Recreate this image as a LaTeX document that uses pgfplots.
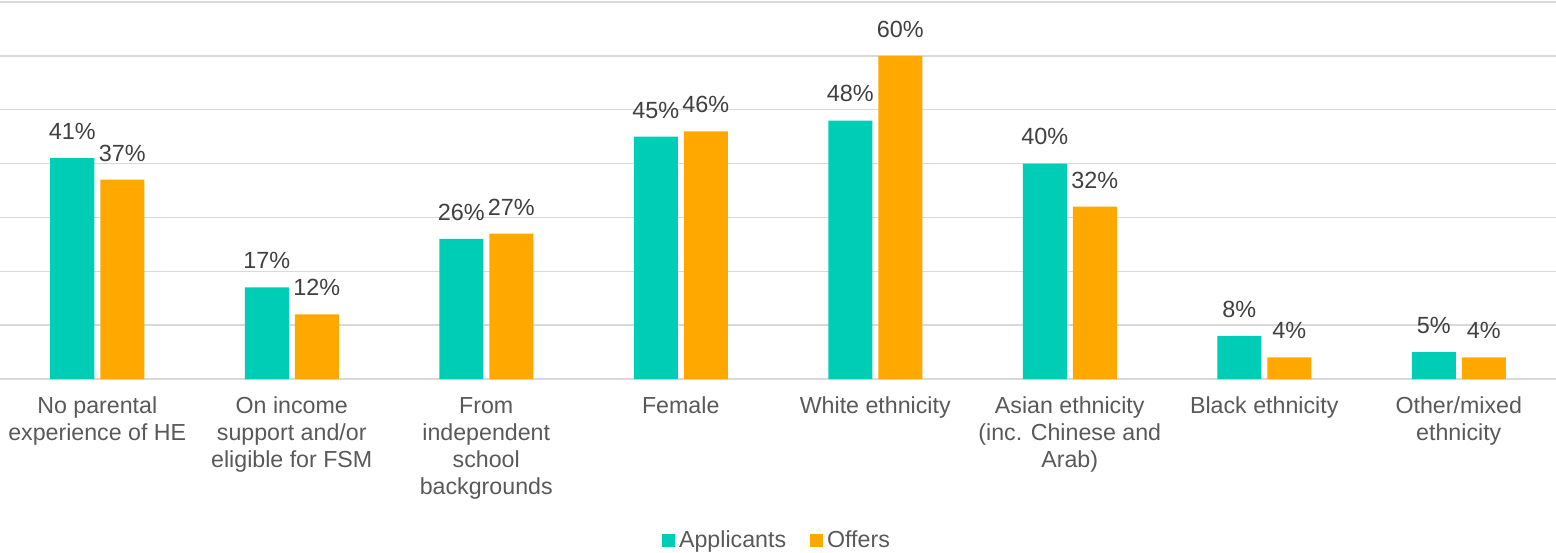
\documentclass[border=0pt]{standalone}
\usepackage{pgfplots}
\pgfplotsset{compat=1.18}
\usepackage{fontspec}
\setmainfont{Liberation Sans}
\definecolor{appteal}{HTML}{00CDB5}
\definecolor{offorange}{HTML}{FFA800}
\definecolor{gridgray}{HTML}{D9D9D9}
\definecolor{labgray}{HTML}{595959}
\definecolor{datgray}{HTML}{404040}
\begin{document}
\begin{tikzpicture}
\begin{axis}[
  at={(0,0)}, anchor=south west,
  width=778pt, height=188.5pt, scale only axis,
  xmin=-0.5, xmax=7.5, ymin=0, ymax=70,
  axis line style={draw=none},
  /pgf/number format/assume math mode=true,
  ytick={0,10,...,70}, yticklabels={},
  ymajorgrids, grid style={gridgray, line width=0.75pt},
  major tick length=0pt,
  xtick={0,...,7},
  xticklabels={{No parental\\experience of HE},{On income\\support and/or\\eligible for FSM},{From\\independent\\school\\backgrounds},{Female},{White ethnicity},{Asian ethnicity\\(inc. Chinese and\\Arab)},{Black ethnicity},{Other/mixed\\ethnicity}},
  xticklabel style={align=center, font=\fontsize{11.6}{13.5}\selectfont, text=labgray, yshift=-5.5pt},
  ybar=3pt, bar width=22pt,
  nodes near coords={\pgfmathprintnumber[assume math mode=true]{\pgfplotspointmeta}\%},
  nodes near coords style={font=\fontsize{11.7}{14}\selectfont, text=datgray, anchor=south, inner sep=0pt, yshift=9pt},
  legend style={at={(0.5,-0.4669)}, anchor=south, draw=none, fill=none, inner sep=0pt,
     font=\fontsize{11.6}{14}\selectfont, text=labgray,
     /tikz/every even column/.append style={column sep=10pt}},
  legend columns=2,
  legend image code/.code={\fill[#1] (0pt,-3.25pt) rectangle (6.5pt,3.25pt);},
  clip=false,
]
\addplot[fill=appteal, draw=none] coordinates {(0,41) (1,17) (2,26) (3,45) (4,48) (5,40) (6,8) (7,5)};
\addplot[fill=offorange, draw=none] coordinates {(0,37) (1,12) (2,27) (3,46) (4,60) (5,32) (6,4) (7,4)};
\legend{Applicants, Offers}
\end{axis}
\pgfresetboundingbox
\useasboundingbox (0,-86.5pt) rectangle (778pt,189.5pt);
\end{tikzpicture}
\end{document}
